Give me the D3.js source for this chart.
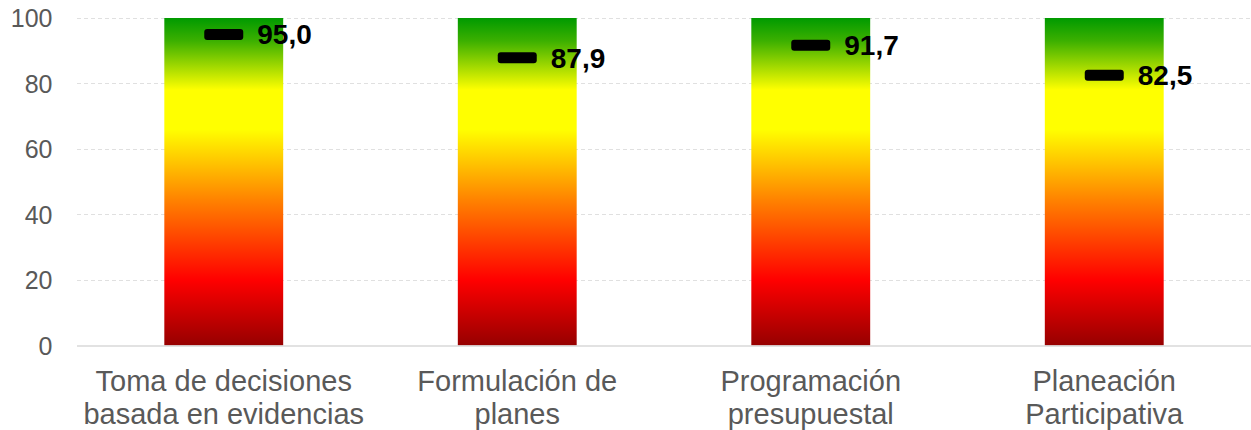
<!DOCTYPE html>
<html>
<head>
<meta charset="utf-8">
<script src="https://cdn.jsdelivr.net/npm/d3@7"></script>
<style>
  html, body { margin: 0; padding: 0; background: #fff; }
  svg { display: block; font-family: "Liberation Sans", Arial, sans-serif; }
</style>
</head>
<body>
<svg id="chart" width="1251" height="430"></svg>
<script>
const categories = [
  ["Toma de decisiones", "basada en evidencias"],
  ["Formulación de", "planes"],
  ["Programación", "presupuestal"],
  ["Planeación", "Participativa"]
];
const values = [95.0, 87.9, 91.7, 82.5];
const barMax = [100, 100, 100, 100];
const yTicks = [0, 20, 40, 60, 80, 100];

const svg = d3.select("#chart");
const pLeft = 77, pRight = 1251, pTop = 18, pBottom = 345.5;

const x = d3.scaleBand().domain(d3.range(categories.length)).range([pLeft, pRight]).paddingInner(0.595).paddingOuter(0.2975);
const y = d3.scaleLinear().domain([0, 100]).range([pBottom, pTop]);

// gradient
const defs = svg.append("defs");
const grad = defs.append("linearGradient").attr("id", "g").attr("x1", 0).attr("y1", 0).attr("x2", 0).attr("y2", 1);
[[0, "#009a00"], [0.07, "#3cb000"], [0.22, "#ffff00"], [0.34, "#ffff00"], [0.56, "#ff8000"], [0.80, "#ff0000"], [1, "#960000"]]
  .forEach(([o, c]) => grad.append("stop").attr("offset", o).attr("stop-color", c));

// gridlines
svg.append("g").selectAll("line").data(yTicks.filter(d => d > 0)).join("line")
  .attr("x1", pLeft).attr("x2", pRight)
  .attr("y1", d => Math.round(y(d)) + 0.5).attr("y2", d => Math.round(y(d)) + 0.5)
  .attr("stroke", "#e0e0e0").attr("stroke-width", 1).attr("stroke-dasharray", "4,3");

// bars
svg.append("g").selectAll("rect").data(barMax).join("rect")
  .attr("x", (d, i) => x(i)).attr("width", x.bandwidth())
  .attr("y", d => y(d)).attr("height", d => y(0) - y(d))
  .attr("fill", "url(#g)");

// baseline
svg.append("line").attr("x1", pLeft).attr("x2", pRight).attr("y1", 346).attr("y2", 346)
  .attr("stroke", "#d9d9d9").attr("stroke-width", 1.5);

// y axis labels
const yAxis = d3.axisLeft(y).tickValues(yTicks).tickSize(0).tickPadding(0);
const ga = svg.append("g").attr("transform", `translate(52.5,0)`).call(yAxis);
ga.select(".domain").remove();
ga.selectAll("text").attr("font-size", 25).attr("fill", "#595959")
  .attr("font-family", "'Liberation Sans', Arial, sans-serif").attr("dy", "0.35em");

// markers
const cx = i => x(i) + x.bandwidth() / 2;
svg.append("g").selectAll("rect").data(values).join("rect")
  .attr("x", (d, i) => cx(i) - 19.5).attr("width", 39)
  .attr("y", d => y(d) - 5.5).attr("height", 11)
  .attr("rx", 3).attr("fill", "#000");

// value labels
svg.append("g").selectAll("text").data(values).join("text")
  .attr("x", (d, i) => cx(i) + 33.5).attr("y", d => y(d) + 10)
  .attr("font-size", 28).attr("font-weight", "bold").attr("fill", "#000")
  .text(d => d.toFixed(1).replace(".", ","));

// category labels
const gl = svg.append("g");
categories.forEach((lines, i) => {
  const t = gl.append("text").attr("text-anchor", "middle").attr("font-size", 29).attr("fill", "#595959");
  lines.forEach((ln, j) => t.append("tspan").attr("x", cx(i)).attr("y", 390.5 + j * 33.5).text(ln));
});
</script>
</body>
</html>
